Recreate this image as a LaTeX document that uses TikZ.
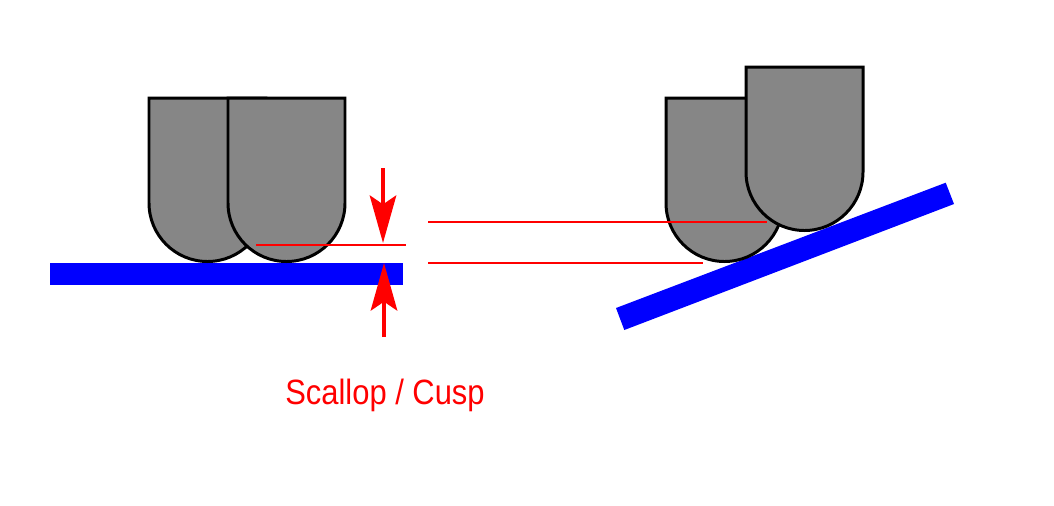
\documentclass[tikz,border=0pt]{standalone}
\usepackage{fontspec}
\setmainfont{Liberation Sans}
\usetikzlibrary{arrows.meta}
\definecolor{toolgray}{RGB}{134,134,134}
\definecolor{partblue}{RGB}{0,0,255}
\definecolor{markred}{RGB}{255,0,0}
\tikzset{
    toolbody/.style={draw=black, fill=toolgray, line width=1.7pt, line join=miter},
    partbar/.style={fill=partblue},
    levelline/.style={markred, line width=0.85pt},
    gaparrow/.style={markred, line width=2.6pt, -{Stealth[length=27pt, width=15pt, inset=5pt]}},
}
\begin{document}
\begin{tikzpicture}[x=0.02cm, y=-0.02cm]
\useasboundingbox (0,0) rectangle (1054,505);

% Flat part
\fill[partbar] (50,262.5) rectangle (403,285);

% Tilted part
\fill[partbar] (616,308) -- (945.7,182.7) -- (954,204) -- (624.3,330) -- cycle;

% Tools, back one first
\foreach \x/\y in {149/98, 228/98, 666/98, 746/67} {
    \draw[toolbody] (\x,\y) -- ++(117,0) -- ++(0,105) arc (0:180:58.5) -- cycle;
}

% Level lines
\coordinate (cuspstart) at (256,245);
\coordinate (cuspend) at (406,245);
\coordinate (upperstart) at (428,222);
\coordinate (upperend) at (767,222);
\coordinate (lowerstart) at (428,263);
\coordinate (lowerend) at (703,263);
\draw[levelline] (cuspstart) -- (cuspend);
\draw[levelline] (upperstart) -- (upperend);
\draw[levelline] (lowerstart) -- (lowerend);

% Gap arrows
\coordinate (downtail) at (383,168);
\coordinate (downtip) at (383,243);
\coordinate (uptail) at (384,337);
\coordinate (uptip) at (384,263);
\draw[gaparrow] (downtail) -- (downtip);
\draw[gaparrow] (uptail) -- (uptip);

% Label
\node[markred, font=\fontsize{20}{24}\selectfont, xscale=0.88] (scalloplabel) at (385,395) {Scallop / Cusp};
\end{tikzpicture}
\end{document}
